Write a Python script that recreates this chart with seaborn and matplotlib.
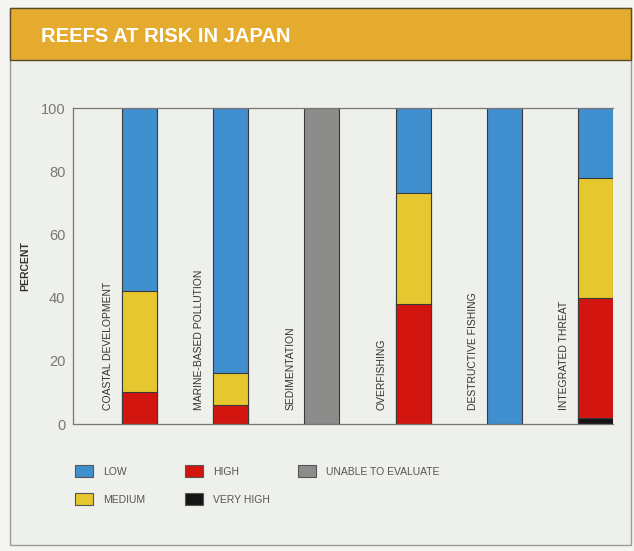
import matplotlib
matplotlib.use("Agg")
import matplotlib.pyplot as plt
from matplotlib.patches import Rectangle
import pandas as pd
import seaborn as sns

threats = ["COASTAL DEVELOPMENT", "MARINE-BASED POLLUTION", "SEDIMENTATION",
           "OVERFISHING", "DESTRUCTIVE FISHING", "INTEGRATED THREAT"]
levels = ["VERY HIGH", "HIGH", "MEDIUM", "LOW", "UNABLE TO EVALUATE"]
very_high = [0, 0, 0, 0, 0, 2]
high = [10, 6, 0, 38, 0, 38]
medium = [32, 10, 0, 35, 0, 38]
low = [58, 84, 0, 27, 100, 22]
unable = [0, 0, 100, 0, 0, 0]
yticks = [0, 20, 40, 60, 80, 100]

colors = {
    "LOW": "#3f8fcf",
    "MEDIUM": "#e6c72f",
    "HIGH": "#d2160f",
    "VERY HIGH": "#151515",
    "UNABLE TO EVALUATE": "#8c8d8b",
}

sns.set_style("white")
plt.rcParams["font.family"] = ["Liberation Sans", "DejaVu Sans"]

# long table with cumulative tops, stacked bottom -> top in `levels` order
rows = []
for i, t in enumerate(threats):
    top = 0
    for lvl, vals in zip(levels, [very_high, high, medium, low, unable]):
        top += vals[i]
        rows.append({"threat": t, "level": lvl, "value": vals[i], "top": top})
df = pd.DataFrame(rows)

W, H = 634, 551
fig = plt.figure(figsize=(W / 100, H / 100), dpi=100)
fig.patch.set_facecolor("#f4f5f2")


def fx(px):
    return px / W


def fy(py):
    return 1 - py / H


# panel frame and title band
fig.patches.append(Rectangle((fx(10), fy(545)), 621 / W, 537 / H,
                             transform=fig.transFigure, facecolor="#eef0ec",
                             edgecolor="#9a9a96", lw=1.0, zorder=-2))
fig.patches.append(Rectangle((fx(10), fy(60)), 621 / W, 52 / H,
                             transform=fig.transFigure, facecolor="#e4ab2e",
                             edgecolor="#5a4a2a", lw=1.0, zorder=-1))
fig.text(fx(41), fy(37), "REEFS AT RISK IN JAPAN", color="white",
         fontsize=14.5, fontweight="bold", va="center", ha="left")

ax = fig.add_axes([fx(73), 127 / H, 540 / W, 316 / H])
ax.set_zorder(2)
ax.set_facecolor("none")

bar_w = 0.383
for lvl in reversed(levels):
    sub = df[(df["level"] == lvl) & (df["value"] > 0)]
    if sub.empty:
        continue
    sns.barplot(data=sub, x="threat", y="top", order=threats, color=colors[lvl],
                width=bar_w, edgecolor="#3a3a3a", linewidth=0.8, saturation=1,
                ax=ax)

for i, t in enumerate(threats):
    ax.text(i - 0.345, 4.5, t, rotation=90, ha="center", va="bottom",
            fontsize=7.5, color="#333333")

ax.set_xlim(-0.728, 5.19)
ax.set_ylim(0, 100)
ax.set_yticks(yticks)
ax.set_xticks([])
ax.set_xlabel("")
ax.set_ylabel("PERCENT", fontsize=7.5, fontweight="bold", color="#333333")
ax.yaxis.set_label_coords((30 - 73) / 540, 0.5)
ax.tick_params(axis="y", direction="in", length=12, width=0.9, color="#777777",
               labelsize=10.5, labelcolor="#777777", pad=5.5)
for side in ["top", "bottom", "left"]:
    ax.spines[side].set_color("#777777")
    ax.spines[side].set_linewidth(0.9)
ax.spines["right"].set_visible(False)

# legend, laid out like the printed key
legend_items = [("LOW", 75, 471), ("MEDIUM", 75, 499), ("HIGH", 185, 471),
                ("VERY HIGH", 185, 499), ("UNABLE TO EVALUATE", 298, 471)]
for name, x0, y0 in legend_items:
    fig.patches.append(Rectangle((fx(x0), fy(y0 + 6)), 18 / W, 12 / H,
                                 transform=fig.transFigure,
                                 facecolor=colors[name], edgecolor="#555555",
                                 lw=0.8, zorder=3))
    fig.text(fx(x0 + 28), fy(y0 + 1), name, fontsize=7.5, color="#555555",
             va="center", ha="left")

fig.savefig("out.png", dpi=100, facecolor=fig.get_facecolor())
